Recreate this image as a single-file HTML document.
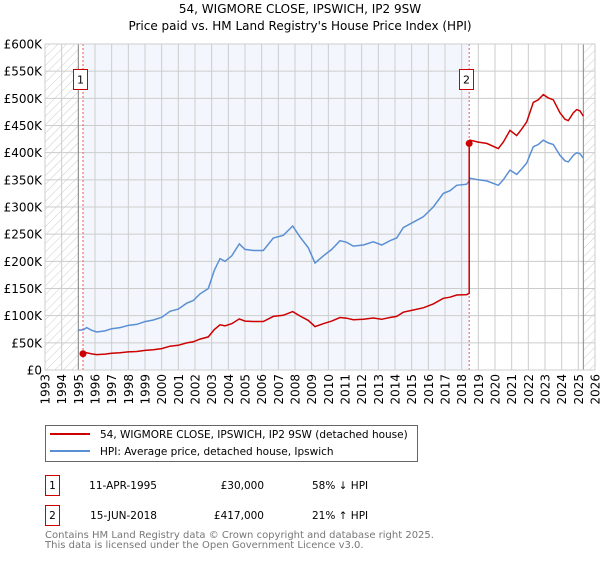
<!DOCTYPE html>
<html><head><meta charset="utf-8"><style>
body{margin:0;background:#fff;font-family:"Liberation Sans","DejaVu Sans",sans-serif}
svg text{font-family:"DejaVu Sans","Liberation Sans",sans-serif}
</style></head><body>
<svg id="c" width="600" height="560" xmlns="http://www.w3.org/2000/svg">
<defs><pattern id="hatch" width="6" height="6" patternUnits="userSpaceOnUse" patternTransform="rotate(45)"><line x1="0" y1="0" x2="0" y2="6" stroke="#ccc" stroke-width="1"/></pattern></defs>
<text x="300" y="13" text-anchor="middle" font-size="12">54, WIGMORE CLOSE, IPSWICH, IP2 9SW</text>
<text x="300" y="30" text-anchor="middle" font-size="12">Price paid vs. HM Land Registry's House Price Index (HPI)</text>
<g id="plot"></g>
<g>
<rect x="45.5" y="425.5" width="372" height="36" fill="#fff" stroke="#666"/>
<line x1="50" y1="434" x2="90" y2="434" stroke="#cc0000" stroke-width="2"/>
<text x="100" y="438" font-size="10.5">54, WIGMORE CLOSE, IPSWICH, IP2 9SW (detached house)</text>
<line x1="50" y1="451" x2="90" y2="451" stroke="#5b8fd4" stroke-width="2"/>
<text x="100" y="455" font-size="10.5">HPI: Average price, detached house, Ipswich</text>
</g>
<g font-size="10.5">
<rect x="45.5" y="475.5" width="14" height="20" fill="#fff" stroke="#cc0000"/>
<text x="52.5" y="489" text-anchor="middle">1</text>
<text x="157" y="489" text-anchor="end">11-APR-1995</text>
<text x="264" y="489" text-anchor="end">£30,000</text>
<text x="312" y="489">58% ↓ HPI</text>
<rect x="45.5" y="505.5" width="14" height="20" fill="#fff" stroke="#cc0000"/>
<text x="52.5" y="519" text-anchor="middle">2</text>
<text x="157" y="519" text-anchor="end">15-JUN-2018</text>
<text x="264" y="519" text-anchor="end">£417,000</text>
<text x="312" y="519">21% ↑ HPI</text>
</g>
<text x="45" y="538" font-size="10" fill="#777">Contains HM Land Registry data © Crown copyright and database right 2025.</text>
<text x="45" y="548" font-size="10" fill="#777">This data is licensed under the Open Government Licence v3.0.</text>
</svg>
<script>
const hpiYears=[1995.0,1995.3,1995.5,1995.8,1996.1,1996.6,1997.0,1997.5,1998.0,1998.5,1999.0,1999.5,2000.0,2000.5,2001.0,2001.5,2001.9,2002.3,2002.8,2003.15,2003.5,2003.8,2004.2,2004.66,2005.0,2005.5,2006.1,2006.7,2007.3,2007.86,2008.3,2008.8,2009.2,2009.7,2010.2,2010.7,2011.1,2011.5,2012.1,2012.7,2013.2,2013.7,2014.1,2014.5,2015.1,2015.7,2016.3,2016.9,2017.3,2017.7,2018.3,2018.45,2018.5,2019.0,2019.5,2020.2,2020.5,2020.9,2021.3,2021.6,2021.9,2022.3,2022.6,2022.9,2023.2,2023.5,2023.9,2024.2,2024.4,2024.7,2024.9,2025.1,2025.3];
const hpiValues=[73,74,78,73,70,72,76,78,82,84,89,92,97,108,112,123,128,140,150,183,205,200,210,232,222,220,220,243,248,265,245,225,197,210,222,238,235,228,230,236,230,238,243,262,272,282,300,325,330,340,342,348,353,350,348,340,350,368,360,370,381,411,415,423,418,415,395,385,383,395,400,398,390];
const saleYears=[1995.28,2018.45];
const salePrices=[30000,417000];
const labelOffsets=[-9.5,-10];
const yTicks=[0,50,100,150,200,250,300,350,400,450,500,550,600];
const xTicks=[1993,1994,1995,1996,1997,1998,1999,2000,2001,2002,2003,2004,2005,2006,2007,2008,2009,2010,2011,2012,2013,2014,2015,2016,2017,2018,2019,2020,2021,2022,2023,2024,2025,2026];
const X0=45,X1=595,Y0=370,Y1=44;
const xs=y=>X0+(y-1993)/(2026-1993)*(X1-X0);
const ys=v=>Y0-v/600*(Y0-Y1);
const NS="http://www.w3.org/2000/svg";
const g=document.getElementById('plot');
function mk(t,a){const e=document.createElementNS(NS,t);for(const k in a)e.setAttribute(k,a[k]);g.appendChild(e);return e;}
function hpiAt(yr){for(let i=1;i<hpiYears.length;i++){if(yr<=hpiYears[i]){const t=(yr-hpiYears[i-1])/(hpiYears[i]-hpiYears[i-1]);return hpiValues[i-1]+t*(hpiValues[i]-hpiValues[i-1]);}}return hpiValues[hpiValues.length-1];}
let r=mk('rect',{x:xs(saleYears[0]),y:Y1,width:xs(saleYears[1])-xs(saleYears[0]),height:Y0-Y1,fill:'#eef3fc',opacity:0.7});


r=mk('rect',{x:X0,y:Y1,width:xs(1995)-X0,height:Y0-Y1,fill:'url(#hatch)'});


r=mk('rect',{x:xs(2025.3),y:Y1,width:X1-xs(2025.3),height:Y0-Y1,fill:'url(#hatch)'});


yTicks.forEach(v=>{
 let l=mk('line',{x1:X0,x2:X1,y1:ys(v),y2:ys(v),stroke:'#ccc','stroke-width':1});
 
 
 let t=mk('text',{x:X0-3,y:ys(v)+4.5,'text-anchor':'end','font-size':12});
 
 
 t.textContent=v===0?'£0':'£'+v+'K';
});
xTicks.forEach(yr=>{
 let l=mk('line',{x1:xs(yr),x2:xs(yr),y1:Y1,y2:Y0,stroke:'#ccc','stroke-width':1});
 
 
 let t=mk('text',{x:0,y:0,'text-anchor':'end','font-size':12,transform:`translate(${xs(yr)+4.5},${Y0+4}) rotate(-90)`});
 
 
 t.textContent=yr;
});
let vl=mk('line',{x1:xs(1995),x2:xs(1995),y1:Y1,y2:Y0,stroke:'#888'});


vl=mk('line',{x1:xs(2025.3),x2:xs(2025.3),y1:Y1,y2:Y0,stroke:'#888'});


saleYears.forEach((sy,i)=>{
 let l=mk('line',{x1:xs(sy),x2:xs(sy),y1:Y1,y2:Y0,stroke:'#e55','stroke-dasharray':'2,2'});
 
 
});
let d=hpiYears.map((y,i)=>(i?'L':'M')+xs(y).toFixed(1)+','+ys(hpiValues[i]).toFixed(1)).join('');
let p=mk('path',{d:d,fill:'none',stroke:'#5b8fd4','stroke-width':1.5});


const r1=salePrices[0]/1000/hpiAt(saleYears[0]), r2=salePrices[1]/1000/hpiAt(saleYears[1]);
let pts=[[saleYears[0],salePrices[0]/1000]];
hpiYears.forEach((y,i)=>{if(y>saleYears[0]&&y<saleYears[1])pts.push([y,hpiValues[i]*r1]);});
pts.push([saleYears[1],hpiAt(saleYears[1])*r1]);
pts.push([saleYears[1],salePrices[1]/1000]);
hpiYears.forEach((y,i)=>{if(y>saleYears[1])pts.push([y,hpiValues[i]*r2]);});
d=pts.map((q,i)=>(i?'L':'M')+xs(q[0]).toFixed(1)+','+ys(q[1]).toFixed(1)).join('');
p=mk('path',{d:d,fill:'none',stroke:'#cc0000','stroke-width':1.5});


saleYears.forEach((sy,i)=>{
 let c=mk('circle',{cx:xs(sy),cy:ys(salePrices[i]/1000),r:3.5,fill:'#cc0000'});
 
 
 const bx=Math.round(xs(sy)+labelOffsets[i])+0.5;
 let b=mk('rect',{x:bx,y:69.5,width:14,height:20,fill:'#fff',stroke:'#cc0000'});
 
 
 let t=mk('text',{x:bx+7,y:83.5,'text-anchor':'middle','font-size':11});
 
 
 t.textContent=i+1;
});
let fr=mk('rect',{x:X0,y:Y1,width:X1-X0,height:Y0-Y1,fill:'none',stroke:'#ccc'});


</script>
</body></html>
